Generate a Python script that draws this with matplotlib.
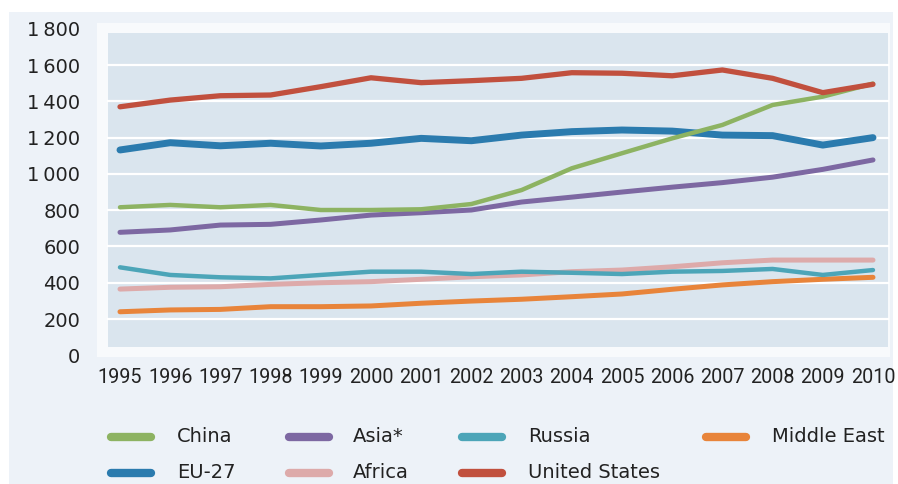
import matplotlib
matplotlib.use("Agg")
import matplotlib.pyplot as plt
from matplotlib.patches import Rectangle
from matplotlib.lines import Line2D

years = list(range(1995, 2011))

china = [816, 829, 816, 829, 801, 801, 805, 834, 911, 1031, 1114, 1196, 1270, 1380, 1426, 1498]
asia = [678, 691, 718, 722, 746, 773, 786, 801, 845, 872, 900, 927, 952, 982, 1025, 1077]
russia = [485, 443, 430, 424, 443, 461, 461, 448, 461, 455, 448, 461, 465, 476, 443, 470]
middle_east = [240, 250, 253, 268, 268, 272, 287, 299, 309, 323, 338, 364, 388, 406, 419, 430]
eu27 = [1132, 1172, 1155, 1169, 1154, 1169, 1196, 1183, 1214, 1233, 1242, 1236, 1214, 1211, 1159, 1200]
africa = [365, 375, 378, 391, 400, 406, 419, 433, 443, 461, 470, 488, 510, 525, 525, 525]
united_states = [1370, 1407, 1431, 1435, 1481, 1530, 1503, 1514, 1527, 1558, 1555, 1541, 1573, 1527, 1448, 1494]

y_ticks = [0, 200, 400, 600, 800, 1000, 1200, 1400, 1600, 1800]
y_tick_labels = ["0", "200", "400", "600", "800", "1\u2009000", "1\u2009200",
                 "1\u2009400", "1\u2009600", "1\u2009800"]

# name, values, colour, line width (pt); listed in drawing order
series = [
    ("Middle East", middle_east, "#E8843A", 3.6),
    ("Africa", africa, "#DDAAAA", 3.6),
    ("Russia", russia, "#4CA5B8", 3.2),
    ("Asia*", asia, "#7D68A2", 3.6),
    ("EU-27", eu27, "#2B7BAE", 5.0),
    ("China", china, "#8DB362", 3.2),
    ("United States", united_states, "#C1503E", 3.8),
]
colors = {name: c for name, _, c, _ in series}

W, H = 898, 484
fig = plt.figure(figsize=(W / 100, H / 100), dpi=100)
fig.patch.set_facecolor("white")

# light panel behind the whole chart
fig.add_artist(Rectangle((9 / W, 0), (893 - 9) / W, 1 - 12 / H,
                         transform=fig.transFigure, facecolor="#EDF2F8",
                         edgecolor="none", zorder=0))

ax = fig.add_axes([97 / W, 1 - 357 / H, 793 / W, 334 / H])
ax.set_facecolor("#F8FAFC")
ax.set_xlim(1994.542, 2010.339)
ax.set_ylim(-9.4, 1832)

# inner plotting panel
ax.add_patch(Rectangle((1994.761, 45.8), 2010.299 - 1994.761, 1777 - 45.8,
                       facecolor="#DAE5EE", edgecolor="none", zorder=0.2))
for v in y_ticks[1:-1]:
    ax.plot([1994.761, 2010.299], [v, v], color="white", lw=1.6, zorder=0.5)

for name, vals, c, lw in series:
    ax.plot(years, vals, color=c, lw=lw, solid_capstyle="round",
            solid_joinstyle="round", zorder=2)

for s in ax.spines.values():
    s.set_visible(False)
ax.set_yticks(y_ticks)
ax.set_yticklabels(y_tick_labels, fontsize=14, color="#222222",
                   family="DejaVu Sans")
ax.set_xticks(years)
ax.set_xticklabels([str(y) for y in years], fontsize=14.2, color="#222222",
                   family="Roboto")
ax.tick_params(axis="y", length=0, pad=12)
ax.tick_params(axis="x", length=0, pad=8)

# legend laid out in two rows
legend_rows = [
    [("China", 107, 177), ("Asia*", 285, 353), ("Russia", 458, 528),
     ("Middle East", 702, 772)],
    [("EU-27", 107, 177), ("Africa", 285, 353), ("United States", 458, 528)],
]
row_y = [437, 473]
for row, yp in zip(legend_rows, row_y):
    fy = 1 - yp / H
    for name, hx, tx in row:
        fig.add_artist(Line2D([(hx + 4) / W, (hx + 44) / W], [fy, fy],
                              transform=fig.transFigure, color=colors[name],
                              lw=6.0, solid_capstyle="round", zorder=3))
        fig.text(tx / W, fy, name, fontsize=14, color="#222222",
                 family="DejaVu Sans", va="center", ha="left")

fig.savefig("out.png", dpi=100, facecolor=fig.get_facecolor())
